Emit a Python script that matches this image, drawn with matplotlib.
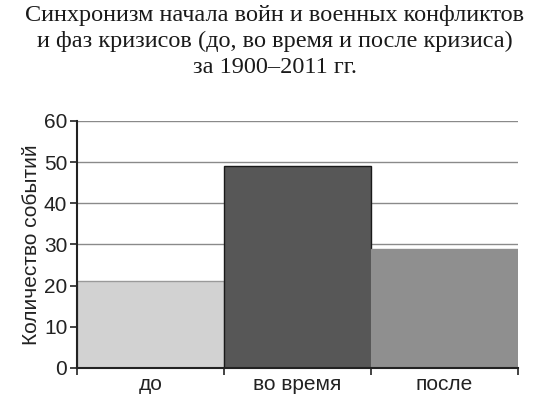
import matplotlib
matplotlib.use("Agg")
import matplotlib.pyplot as plt

categories = ["до", "во время", "после"]
counts = [21, 49, 29]
colors = ["#d2d2d2", "#575757", "#8f8f8f"]
yticks = [0, 10, 20, 30, 40, 50, 60]

TITLE = ("Синхронизм начала войн и военных конфликтов\n"
         "и фаз кризисов (до, во время и после кризиса)\n"
         "за 1900–2011 гг.")

fig = plt.figure(figsize=(5.5, 3.98), dpi=100)
fig.patch.set_facecolor("white")
ax = fig.add_axes([0.14, 0.0754, 0.802, 0.621])

x = list(range(len(categories)))
ax.bar(x, counts, width=1.0, color=colors, edgecolor=["#9a9a9a", "#1a1a1a", "#8f8f8f"],
       linewidth=1.0, zorder=2)
ax.set_xlim(-0.5, len(categories) - 0.5)
ax.set_ylim(0, 60)
ax.set_yticks(yticks)
ax.yaxis.grid(True, color="#8a8a8a", linewidth=1.0, zorder=0)
ax.set_axisbelow(True)

ax.set_xticks(x)
ax.set_xticklabels(categories, fontsize=15, family="Liberation Sans", color="#222222")
ax.set_xticks([i - 0.5 for i in range(len(categories) + 1)], minor=True)
ax.tick_params(axis="x", which="major", length=0, pad=5)
ax.tick_params(axis="x", which="minor", length=5, width=1.2, color="#222222", direction="out")
ax.tick_params(axis="y", length=5, width=1.2, color="#222222", labelsize=15, pad=2)
for lab in ax.get_yticklabels():
    lab.set_family("Liberation Sans"); lab.set_color("#222222")

for s in ("top", "right"):
    ax.spines[s].set_visible(False)
for s in ("left", "bottom"):
    ax.spines[s].set_color("#222222"); ax.spines[s].set_linewidth(1.5)

ax.set_ylabel("Количество событий", fontsize=15, family="Liberation Sans",
              color="#222222", labelpad=2)

fig.text(0.5, 0.988, TITLE, ha="center", va="top", fontsize=17.5,
         family="Liberation Serif", color="#1a1a1a", linespacing=1.32)

fig.savefig("out.png", dpi=100)
